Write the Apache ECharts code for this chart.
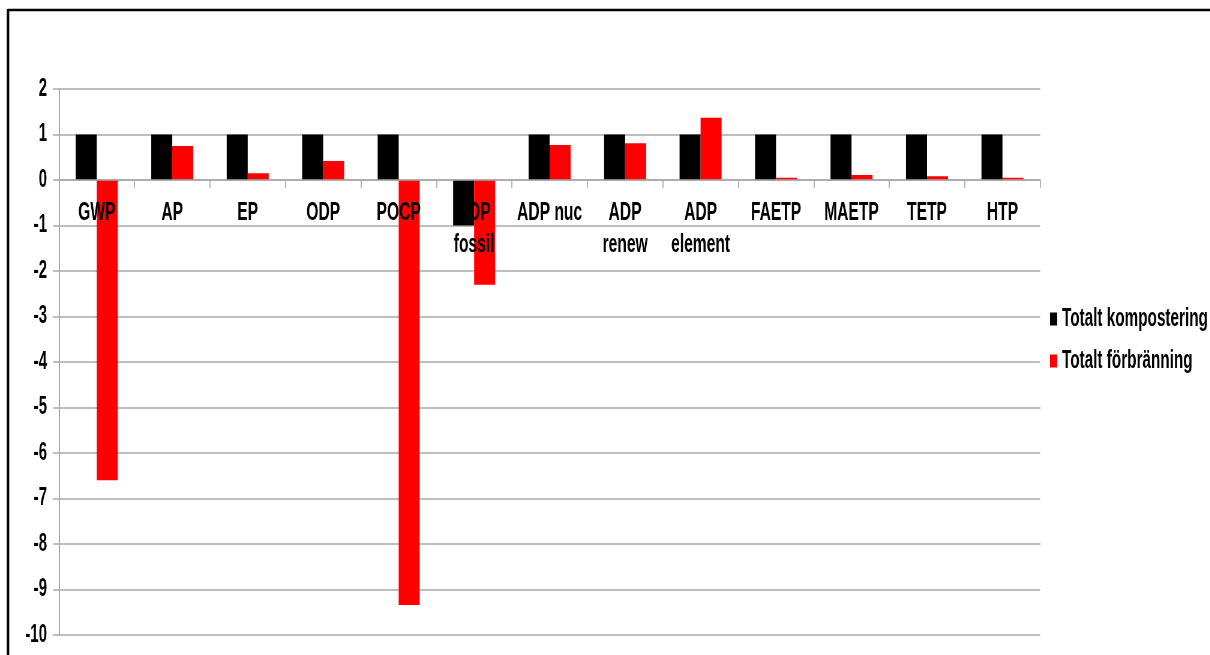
<!DOCTYPE html>
<html>
<head>
<meta charset="utf-8">
<script src="https://cdn.jsdelivr.net/npm/echarts@6/dist/echarts.min.js"></script>
<style>
  html, body { margin: 0; padding: 0; background: #fff; overflow: hidden; }
  #wrap { width: 1210px; height: 655px; overflow: hidden; position: relative; }
  #chart { position: absolute; left: 0; top: 0; height: 655px; transform-origin: 0 0; }
</style>
</head>
<body>
<div id="wrap"><div id="chart"></div></div>
<script>
// Impact categories (two-line names break at the space)
const categories = ['GWP', 'AP', 'EP', 'ODP', 'POCP', 'ADP\nfossil', 'ADP nuc',
  'ADP\nrenew', 'ADP\nelement', 'FAETP', 'MAETP', 'TETP', 'HTP'];

// Normalised results per scenario
const kompostering = [1, 1, 1, 1, 1, -1, 1, 1, 1, 1, 1, 1, 1];
const forbranning = [-6.6, 0.75, 0.15, 0.42, -9.34, -2.3, 0.77, 0.81, 1.37, 0.05, 0.11, 0.08, 0.05];

const seriesNames = ['Totalt kompostering', 'Totalt förbränning'];

// Y axis range and step
const yMin = -10, yMax = 2, yStep = 1;

// The chart is laid out wide and squeezed horizontally, giving condensed type
const SX = 0.6;
const W = 1210 / SX;
const el = document.getElementById('chart');
el.style.width = W + 'px';
el.style.transform = 'scaleX(' + SX + ')';

const H = 655, gridTop = 89, gridBottom = 20;
const plotH = H - gridTop - gridBottom;
// category axis sits on the zero line: shift it up from the bottom edge
const zeroShift = plotH * (0 - yMin) / (yMax - yMin);

const font = '"Liberation Sans", Arial, sans-serif';
const gridColor = '#a8a8a8';

const chart = echarts.init(el, null, { renderer: 'canvas' });
chart.setOption({
  animation: false,
  backgroundColor: '#fff',
  textStyle: { fontFamily: font },
  grid: {
    left: 59 / SX, right: W - 1040 / SX, top: gridTop, bottom: gridBottom,
    containLabel: false, outerBoundsMode: 'none'
  },
  legend: {
    orient: 'vertical',
    left: 1047 / SX,
    top: 301,
    icon: 'rect',
    itemWidth: 12,
    itemHeight: 13,
    itemGap: 16,
    data: seriesNames,
    textStyle: { fontFamily: font, fontSize: 25.5, fontWeight: 'bold', color: '#000', lineHeight: 26, padding: [0, 0, 0, 3] }
  },
  xAxis: {
    type: 'category',
    data: categories,
    position: 'bottom',
    offset: -zeroShift,
    axisLine: { onZero: false, lineStyle: { color: gridColor, width: 1.5 } },
    axisTick: { show: true, length: 8, lineStyle: { color: gridColor, width: 1.7 } },
    axisLabel: {
      interval: 0, margin: 17, fontFamily: font, fontSize: 26, fontWeight: 'bold',
      color: '#000', lineHeight: 32
    },
    splitLine: { show: false },
    z: 10
  },
  yAxis: {
    type: 'value',
    min: yMin, max: yMax, interval: yStep,
    axisLine: { show: true, lineStyle: { color: gridColor, width: 2 } },
    axisTick: { show: true, length: 10, lineStyle: { color: gridColor, width: 1.5 } },
    axisLabel: { margin: 20, fontFamily: font, fontSize: 25, fontWeight: 'bold', color: '#000' },
    splitLine: { show: true, lineStyle: { color: gridColor, width: 1.5 } }
  },
  series: [
    {
      name: seriesNames[0], type: 'bar', data: kompostering,
      barWidth: 35, barGap: '0%', z: 5,
      itemStyle: { color: '#000000' }
    },
    {
      name: seriesNames[1], type: 'bar', data: forbranning,
      barWidth: 35, barGap: '0%', z: 5,
      itemStyle: { color: '#ff0000' }
    }
  ],
  graphic: [
    { type: 'line', silent: true, shape: { x1: 8 / SX, y1: 10, x2: W + 10, y2: 10 }, style: { stroke: '#000', lineWidth: 2.5 } },
    { type: 'line', silent: true, shape: { x1: 8 / SX, y1: 9, x2: 8 / SX, y2: 700 }, style: { stroke: '#000', lineWidth: 2.5 / SX } }
  ]
});
</script>
</body>
</html>
